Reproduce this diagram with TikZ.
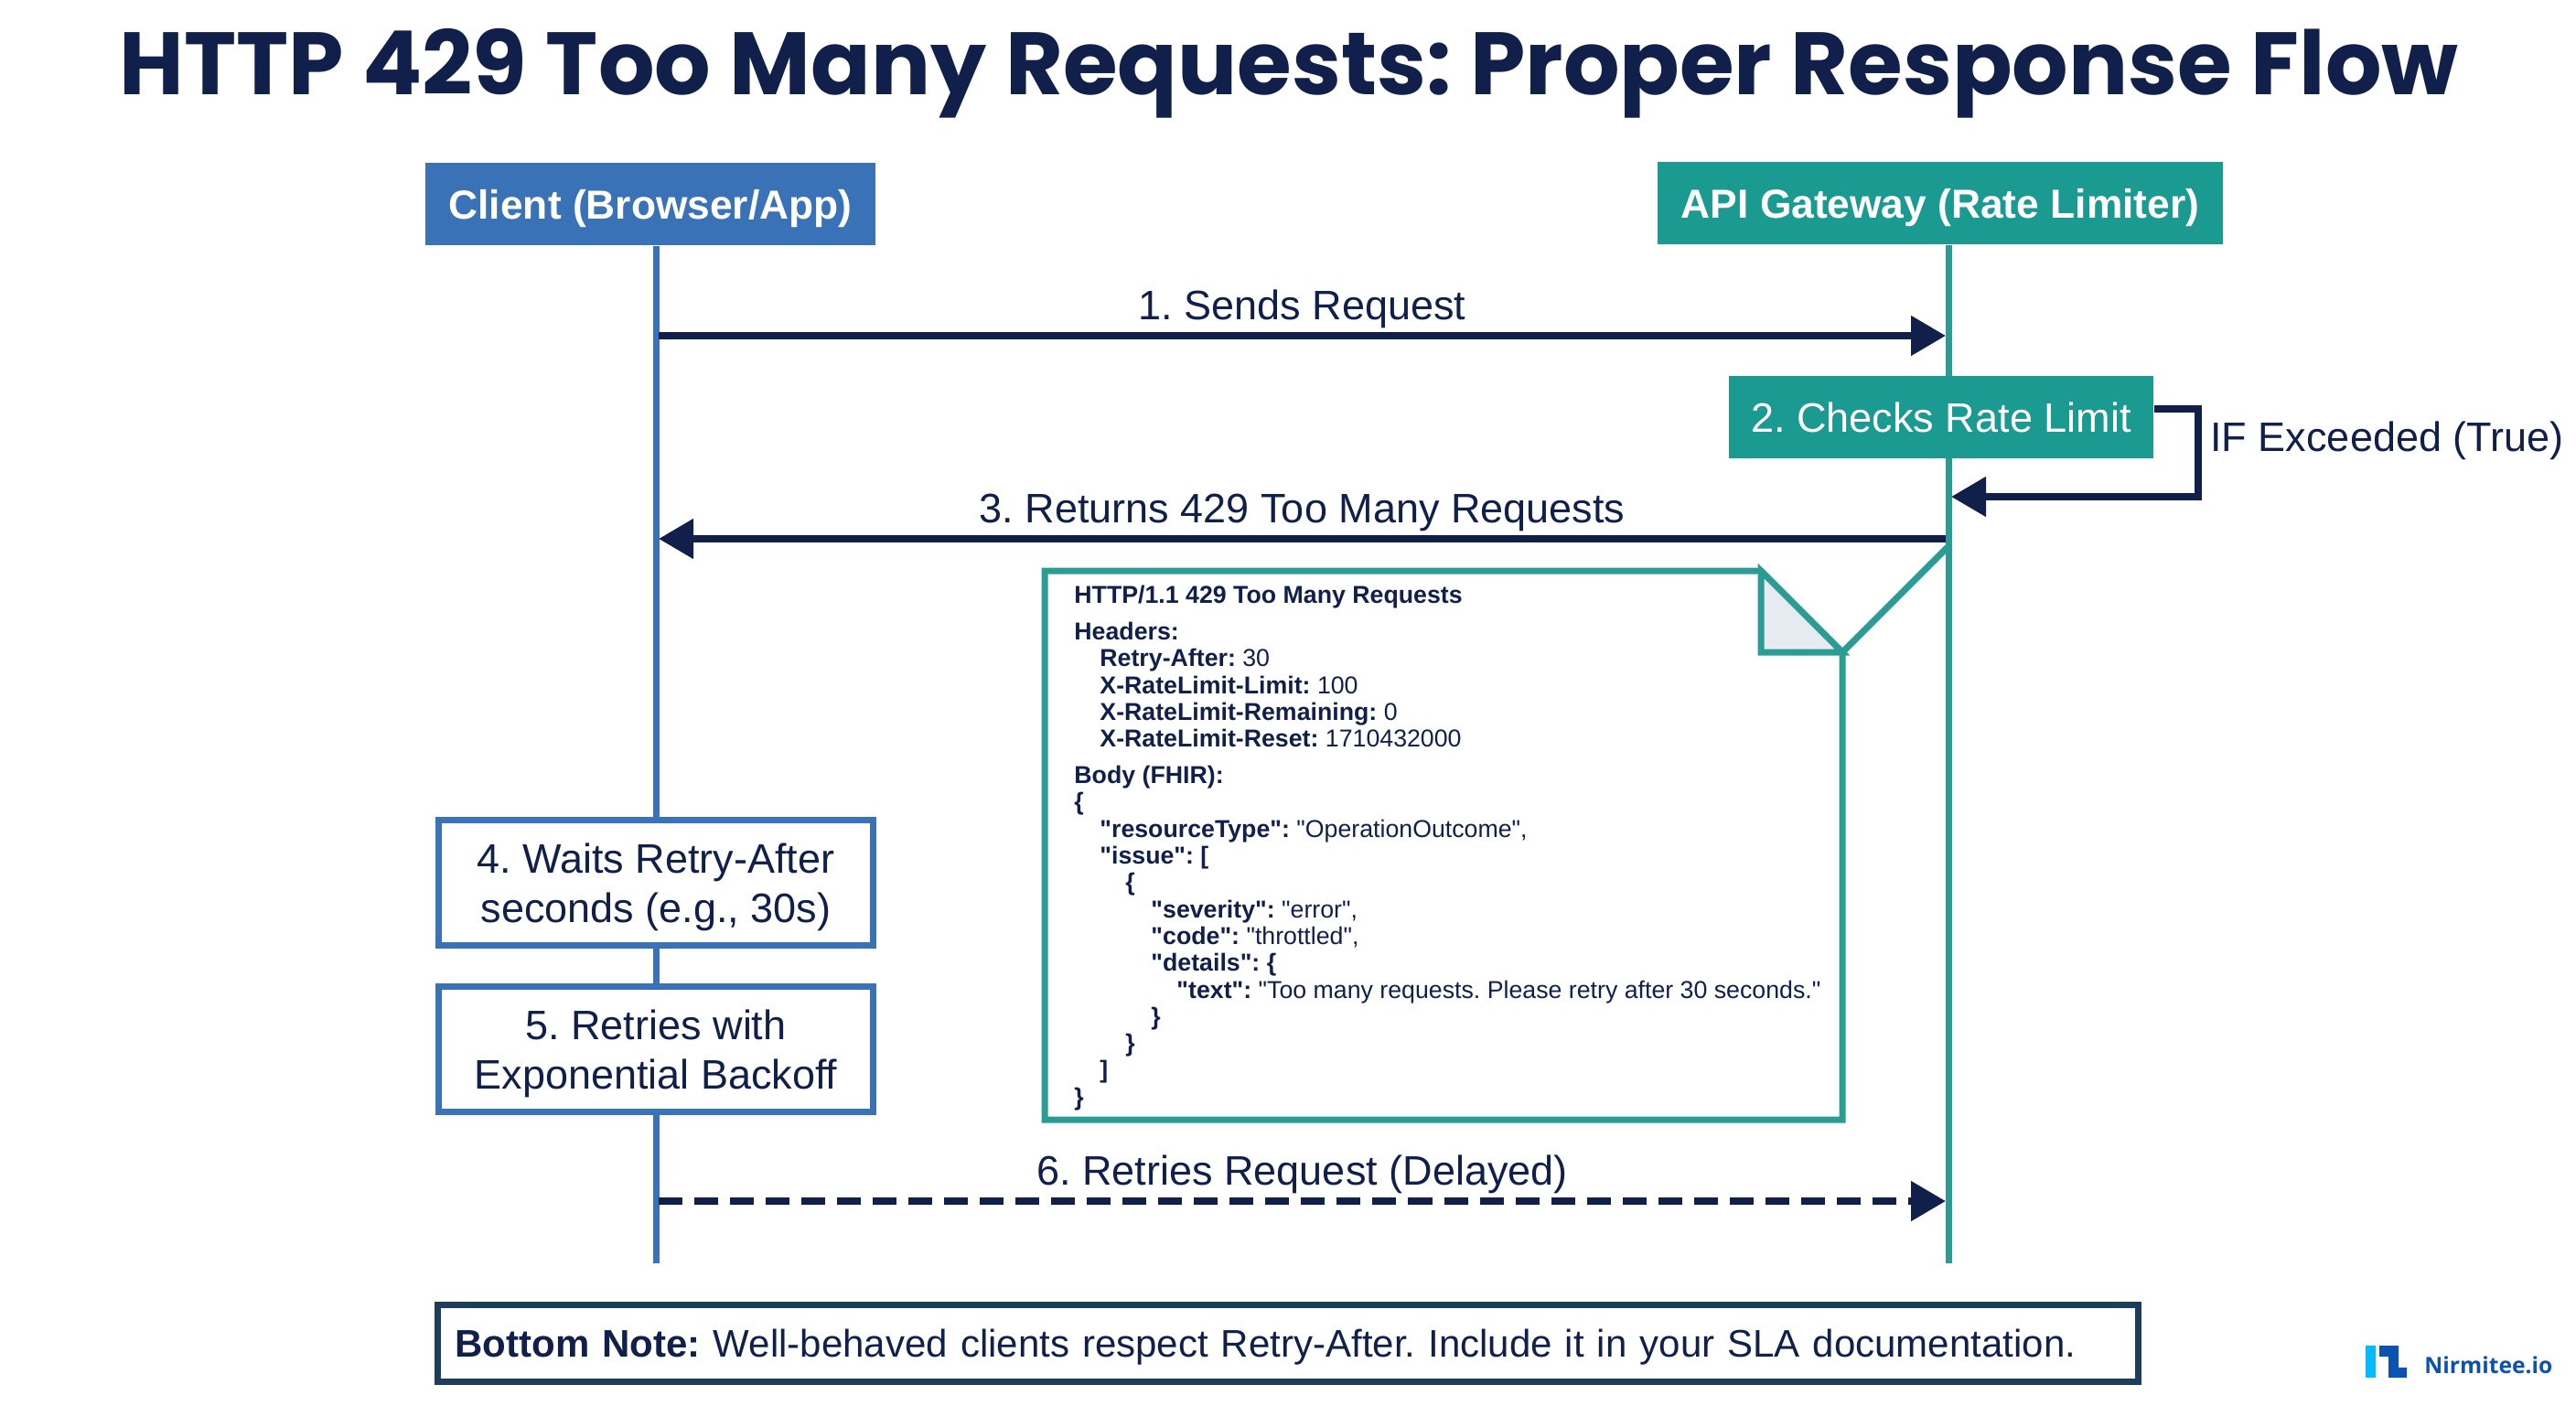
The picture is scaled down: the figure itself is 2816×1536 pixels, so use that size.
\documentclass[tikz,border=0pt]{standalone}
\usepackage{fontspec}
\setmainfont{Liberation Sans}
\newfontfamily\titlefont{Poppins}
\newfontfamily\logofont{Open Sans}
\newfontfamily\notefont{Liberation Sans}
\usetikzlibrary{arrows.meta}
\AtBeginDocument{\frenchspacing}
\definecolor{navy}{HTML}{10204A}
\definecolor{clientblue}{HTML}{3A72B8}
\definecolor{gatewayteal}{HTML}{1A9A90}
\definecolor{noteteal}{HTML}{2A9C93}
\definecolor{foldgrey}{HTML}{E6EBF2}
\definecolor{bottomline}{HTML}{1D3D5C}
\definecolor{logocyan}{HTML}{05BBFD}
\definecolor{logoblue}{HTML}{0B52B2}

\begin{document}
\begin{tikzpicture}[x=0.01cm, y=-0.01cm, thick,
                    head node/.style={draw=none,text=white,inner sep=0pt,minimum height=0.9cm,text height=12pt,text depth=2.7pt,font=\fontsize{12.6}{16}\selectfont\bfseries},
                    step node/.style={draw=clientblue,line width=0.07cm,fill=white,text=navy,inner sep=0pt,align=center,minimum width=4.74cm,minimum height=1.36cm,font=\fontsize{12.8}{15.4}\selectfont},
                    msg node/.style={text=navy,inner sep=0pt,font=\fontsize{12.8}{16}\selectfont},
                    msg/.style={draw=navy,line width=0.08cm,-{Triangle[length=0.38cm,width=0.42cm]}},
                    lifeline/.style={line width=0.07cm}]

  \useasboundingbox[fill=white] (0,0) rectangle (2816,1536);

  \node[inner sep=0pt, text=navy, font=\fontsize{27.5}{32}\titlefont\bfseries] (title) at (1409,80) {HTTP 429 Too Many Requests: Proper Response Flow};

  \node[head node, fill=clientblue, minimum width=4.92cm] (client) at (711,223) {Client (Browser/App)};
  \node[head node, fill=gatewayteal, minimum width=6.18cm] (gateway) at (2121,222) {API Gateway (Rate Limiter)};

  \coordinate (clientend) at (717,1381);
  \coordinate (gatewayend) at (2130,1381);
  \draw[lifeline, draw=clientblue] (client.south -| clientend) -- (clientend);
  \draw[lifeline, draw=noteteal] (gateway.south -| gatewayend) -- (gatewayend);

  \coordinate (c1) at (720,367);
  \coordinate (g1) at (2127,367);
  \coordinate (g2) at (2133,543);
  \coordinate (g3) at (2127,589);
  \coordinate (c3) at (720,589);
  \coordinate (c6) at (720,1313);
  \coordinate (g6) at (2127,1313);
  \coordinate (turn1) at (2403,447);
  \coordinate (turn2) at (2403,543);

  \node[head node, fill=gatewayteal, font=\fontsize{12.8}{16}\selectfont, text height=12pt, minimum width=4.63cm] (check) at (2122,456) {2. Checks Rate Limit};

  \draw[msg] (c1) -- node[msg node, midway, above=0.04cm] (send) {1. Sends Request} (g1);
  \draw[draw=navy, line width=0.08cm, -{Triangle[length=0.38cm,width=0.42cm]}] (check.east |- turn1) -- (turn1) -- (turn2) -- (g2);
  \node[msg node, anchor=west] (exceeded) at (2415,482) {IF Exceeded (True)};
  \draw[msg] (g3) -- node[msg node, midway, above=0.04cm] (back) {3. Returns 429 Too Many Requests} (c3);

  % response note
  \coordinate (tip) at (2014,713);
  \coordinate (gnote) at (2129,598);
  \coordinate (nw) at (1142,624);
  \coordinate (sw) at (1142,1224);
  \coordinate (se) at (2014,1224);
  \coordinate (ne) at (1925,624);
  \coordinate (fold) at (1925,713);
  \draw[draw=noteteal, line width=0.07cm, fill=white, line join=miter] (nw) -- (ne) -- (tip) -- (se) -- (sw) -- cycle;
  \draw[draw=noteteal, line width=0.07cm, fill=foldgrey] (ne) -- (fold) -- (tip) -- cycle;
  \draw[draw=noteteal, line width=0.07cm] (tip) -- (gnote);

  \node[inner sep=0pt, anchor=north west, align=left, text=navy, font=\fontsize{7.6}{8.33}\notefont] (response) at (1173,639) {%
    \textbf{HTTP/1.1 429 Too Many Requests}\\[3pt]
    \textbf{Headers:}\\
    \hspace*{0.28cm}\textbf{Retry-After:} 30\\
    \hspace*{0.28cm}\textbf{X-RateLimit-Limit:} 100\\
    \hspace*{0.28cm}\textbf{X-RateLimit-Remaining:} 0\\
    \hspace*{0.28cm}\textbf{X-RateLimit-Reset:} 1710432000\\[3pt]
    \textbf{Body (FHIR):}\\
    \textbf{\{}\\
    \hspace*{0.28cm}\textbf{"resourceType":} "OperationOutcome",\\
    \hspace*{0.28cm}\textbf{"issue":} \textbf{[}\\
    \hspace*{0.56cm}\textbf{\{}\\
    \hspace*{0.84cm}\textbf{"severity":} "error",\\
    \hspace*{0.84cm}\textbf{"code":} "throttled",\\
    \hspace*{0.84cm}\textbf{"details":} \textbf{\{}\\
    \hspace*{1.12cm}\textbf{"text":} "Too many requests. Please retry after 30 seconds."\\
    \hspace*{0.84cm}\textbf{\}}\\
    \hspace*{0.56cm}\textbf{\}}\\
    \hspace*{0.28cm}\textbf{]}\\
    \textbf{\}}};

  \node[step node] (wait) at (717,965) {\rule{0pt}{12pt}4. Waits Retry-After\\seconds (e.g., 30s)};
  \node[step node] (retry) at (717,1147) {\rule{0pt}{12pt}5. Retries with\\Exponential Backoff};

  \draw[msg, dash pattern=on 0.26cm off 0.13cm] (c6) -- node[msg node, midway, above=0.04cm] (again) {6. Retries Request (Delayed)} (g6);

  \node[draw=bottomline, line width=0.07cm, fill=white, text=navy, inner sep=0pt, minimum width=18.57cm, minimum height=0.84cm, text width=18.2cm, align=left, font=\fontsize{11.95}{16}\selectfont] (bottom) at (1408,1468) {\rule{0pt}{11.5pt}\textbf{Bottom Note:} Well-behaved clients respect Retry-After. Include it in your SLA documentation.};

  % logo
  \fill[logocyan] (2586,1471) rectangle (2597,1506);
  \fill[logoblue] (2601,1471) -- (2622,1471) -- (2622,1495) -- (2631,1495) -- (2631,1506) -- (2611,1506) -- (2611,1483) -- (2601,1483) -- cycle;
  \node[inner sep=0pt, anchor=west, text=logoblue, font=\fontsize{7}{9}\logofont\bfseries] (logo) at (2649,1492) {Nirmitee.io};

\end{tikzpicture}
\end{document}
